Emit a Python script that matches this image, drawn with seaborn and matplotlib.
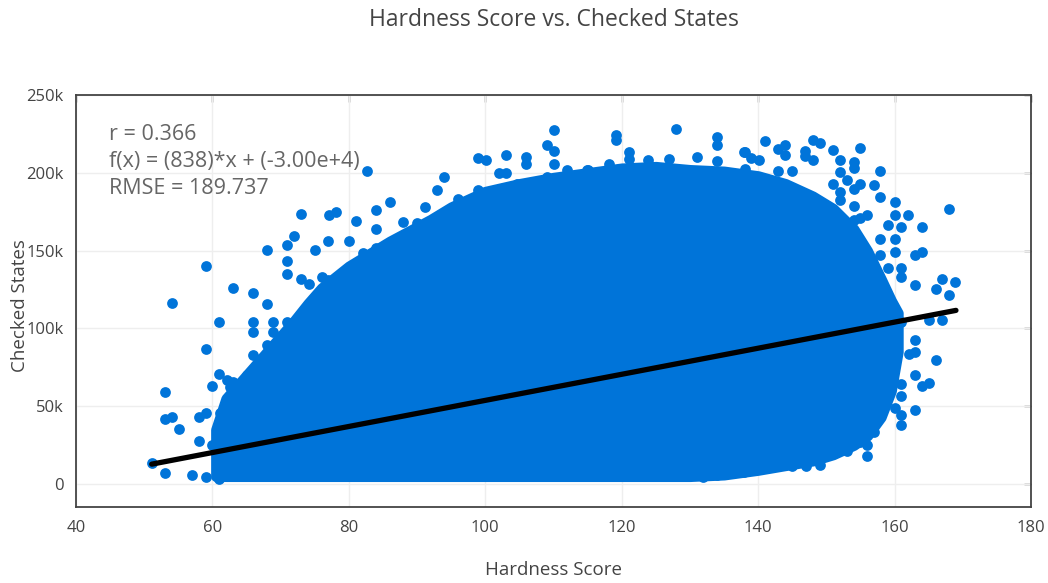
import matplotlib
matplotlib.use("Agg")
import matplotlib.pyplot as plt
import numpy as np
import pandas as pd
import seaborn as sns

# Individual runs that sit apart from the dense cloud (hardness, checked states in thousands)
hardness = [
    53.1, 53.1, 54.1, 55.1, 51.1, 53.1, 54.0, 58.0, 59.0, 58.0, 60.0, 60.0, 57.0, 59.0, 61.0,
    59.0, 63.0, 66.0, 68.0, 61.0, 59.0,
    73.0, 68.0, 71.0, 72.0, 71.0, 71.0,
    77.1, 78.1, 75.1, 77.0, 80.0, 81.0, 84.0, 86.0, 84.0, 84.0, 82.0, 88.0, 90.0, 92.9,
    66.0, 66.0, 66.0, 68.9, 68.9, 71.0, 73.0, 68.0, 65.0, 61.0, 63.0,
    82.6,
    110.0, 119.1, 119.1, 128.0, 133.9, 133.9, 109.0, 110.0, 106.0, 106.0, 103.0, 98.9, 100.1,
    121.0, 121.0, 123.9, 127.0, 131.0, 137.9, 134.0, 118.1, 110.0, 94.0, 102.0, 103.1, 98.9,
    91.1, 96.0, 112.0, 115.1,
    141.0, 144.0, 142.9, 144.0, 148.0, 149.0, 151.0, 155.0, 146.9, 146.9, 148.0, 152.0, 154.0,
    154.0, 152.0, 157.9, 145.0, 142.9, 138.0, 139.0, 140.1, 138.0, 153.0, 155.0, 157.0, 154.0,
    151.0, 152.0, 157.9, 152.0, 154.0, 160.0, 168.0, 160.0, 162.0, 156.0, 154.0, 155.0, 159.0,
    161.0, 164.0, 157.9, 160.0, 157.9, 160.0, 163.0, 164.0, 159.0, 161.0, 161.0, 163.0, 167.0,
    168.9, 166.0, 168.0,
    167.0, 165.0, 166.0, 163.0, 163.0, 164.0, 165.0, 161.0, 159.1, 161.0, 163.0, 161.0, 161.0,
    160.0, 163.0, 162.1, 161.0, 160.0,
    156.0, 157.0, 157.0, 157.0, 155.9, 155.0, 153.0, 152.0, 149.0, 147.0, 145.0, 144.0, 142.0,
    139.0, 137.9, 135.9, 134.0, 131.9, 128.1,
    73.0, 74.1, 76.0, 77.0, 78.2, 76.0, 74.8, 74.8, 73.8, 71.05, 68.9, 62.1, 62.6, 61.1, 62.6,
    98.0, 102.2, 104.6, 109.0, 114.9,
]
checked_k = [
    59.2, 41.7, 43.0, 35.3, 13.5, 7.1, 116.4, 43.0, 45.6, 27.8, 62.9, 25.0, 5.8, 4.7, 3.2,
    139.9, 126.3, 123.0, 116.0, 104.2, 86.5,
    173.8, 150.2, 153.9, 159.2, 143.1, 135.2,
    172.7, 174.8, 150.6, 156.0, 156.0, 169.0, 175.9, 181.2, 163.7, 151.7, 148.5, 168.4, 167.7, 188.7,
    104.2, 97.8, 82.8, 104.2, 97.8, 104.2, 108.5, 89.7, 70.4, 71.0, 65.7,
    201.1,
    227.2, 224.0, 221.2, 228.3, 222.9, 217.6, 217.6, 213.9, 210.1, 205.8, 211.2, 209.4, 208.0,
    213.3, 209.1, 208.4, 209.1, 210.1, 213.3, 207.3, 205.8, 205.4, 197.2, 200.1, 199.8, 188.7,
    178.0, 183.4, 201.5, 201.5,
    220.2, 217.6, 215.0, 211.2, 221.4, 219.3, 214.8, 216.1, 213.9, 210.7, 208.0, 208.0, 206.9,
    203.3, 200.5, 200.9, 201.1, 200.9, 213.7, 209.7, 208.0, 202.6, 195.6, 192.6, 191.9, 189.8,
    192.6, 187.6, 184.4, 182.3, 178.6, 181.2, 177.0, 173.1, 173.1, 173.1, 169.4, 171.2, 166.7,
    165.2, 165.2, 157.3, 157.7, 147.4, 149.1, 147.4, 149.1, 139.1, 139.1, 133.1, 127.7, 132.0,
    129.8, 125.6, 121.3,
    105.3, 105.3, 80.0, 92.9, 70.0, 62.9, 65.0, 64.6, 58.9, 56.7, 47.5, 44.3, 37.9,
    48.6, 84.9, 83.9, 104.2, 92.9,
    18.2, 33.2, 39.6, 49.2, 25.0, 26.8, 21.2, 23.9, 12.2, 11.7, 11.7, 12.2, 16.5,
    9.0, 7.9, 8.5, 5.8, 4.7, 5.8,
    132.0, 128.8, 133.0, 131.0, 126.6, 118.0, 113.8, 103.0, 101.0, 90.3, 81.7, 66.8, 62.5, 45.4, 41.0,
    180.0, 188.7, 193.0, 197.2, 201.5,
]

# Extent of the dense cloud of runs (checked states in thousands)
cloud_hardness = [60.5, 62, 64, 66, 68, 70, 72, 74, 76, 78, 80, 83, 86, 89, 92, 95, 100,
                  105, 110, 115, 120, 125, 130, 135, 140, 144, 148, 151, 154, 156, 158,
                  159.5, 160.5]
cloud_low_k = [5, 5, 5, 5, 5, 5, 5, 5, 5, 5, 5, 5, 5, 5, 5, 5, 5,
               5, 5, 5, 5, 5, 5, 6, 9, 12, 15, 19, 25, 31, 43, 60, 85]
cloud_high_k = [35, 55, 65, 75, 85, 95, 105, 116, 126, 133, 140, 148, 156, 163, 170, 178, 188,
                193, 197, 200, 203, 204, 202, 201, 198, 193, 185, 177, 164, 150, 132,
                118, 110]

# Least-squares fit
slope = 838
intercept = -3.00e4
fit_range = [51.1, 169.0]
r_value = 0.366
rmse = 189.737

x_ticks = [40, 60, 80, 100, 120, 140, 160, 180]
y_ticks = [0, 50000, 100000, 150000, 200000, 250000]
y_tick_labels = ["0", "50k", "100k", "150k", "200k", "250k"]

points = pd.DataFrame({"Hardness Score": hardness,
                       "Checked States": np.array(checked_k) * 1000})
fit = pd.DataFrame({"Hardness Score": fit_range})
fit["Checked States"] = slope * fit["Hardness Score"] + intercept

sns.set_style("white")
plt.rcParams["font.family"] = ["Open Sans", "DejaVu Sans"]

BLUE = "#0074d9"
INK = "#444444"
W, H = 1048, 583
fig = plt.figure(figsize=(W / 100, H / 100), dpi=100)
left, right, top, bottom = 76, 1031, 95, 507
ax = fig.add_axes([left / W, 1 - bottom / H, (right - left) / W, (bottom - top) / H])

# dense cloud, outlined with a stroke as wide as a marker so its rim stays rounded
ax.fill_between(cloud_hardness, np.array(cloud_low_k) * 1000, np.array(cloud_high_k) * 1000,
                facecolor=BLUE, edgecolor=BLUE, linewidth=7.5, joinstyle="round", zorder=2)
sns.scatterplot(data=points, x="Hardness Score", y="Checked States", color=BLUE,
                s=60, linewidth=0, ax=ax, zorder=3)
sns.lineplot(data=fit, x="Hardness Score", y="Checked States", color="black",
             linewidth=3.8, ax=ax, zorder=4)

ax.set_xlim(40, 180)
ax.set_ylim(-14700, 250000)
ax.set_xticks(x_ticks)
ax.set_yticks(y_ticks, labels=y_tick_labels)
ax.set_axisbelow(True)
ax.grid(True, color="#eeeeee", linewidth=1)
for s in ax.spines.values():
    s.set_color(INK)
    s.set_linewidth(1.3)
ax.tick_params(direction="out", length=5, width=1, color=INK, labelcolor=INK,
               labelsize=12, pad=4)

# mirrored ticks on the top and right edges point inward
sec_x = ax.secondary_xaxis("top")
sec_x.set_xticks(x_ticks, labels=[])
sec_x.tick_params(direction="in", length=5, width=1, color=INK)
sec_x.spines["top"].set_visible(False)
sec_y = ax.secondary_yaxis("right")
sec_y.set_yticks(y_ticks, labels=[])
sec_y.tick_params(direction="in", length=5, width=1, color=INK)
sec_y.spines["right"].set_visible(False)

ax.set_xlabel("")
ax.set_ylabel("")
fig.text((left + right) / 2 / W, 1 - 570 / H, "Hardness Score", ha="center", va="center",
         fontsize=13.5, color=INK)
fig.text(20 / W, 1 - 306 / H, "Checked States", ha="center", va="center", rotation=90,
         fontsize=13.5, color=INK)
fig.text((left + right) / 2 / W, 1 - 20 / H, "Hardness Score vs. Checked States",
         ha="center", va="center", fontsize=16.5, color=INK)

stats = [f"r = {r_value}",
         f"f(x) = ({slope})*x + ({intercept:.2e})".replace("e+04", "e+4"),
         f"RMSE = {rmse}"]
for i, line in enumerate(stats):
    fig.text(109 / W, 1 - (134 + 27.5 * i) / H, line, ha="left", va="center",
             fontsize=15.5, color="#666666")

fig.savefig("out.png", dpi=100)
